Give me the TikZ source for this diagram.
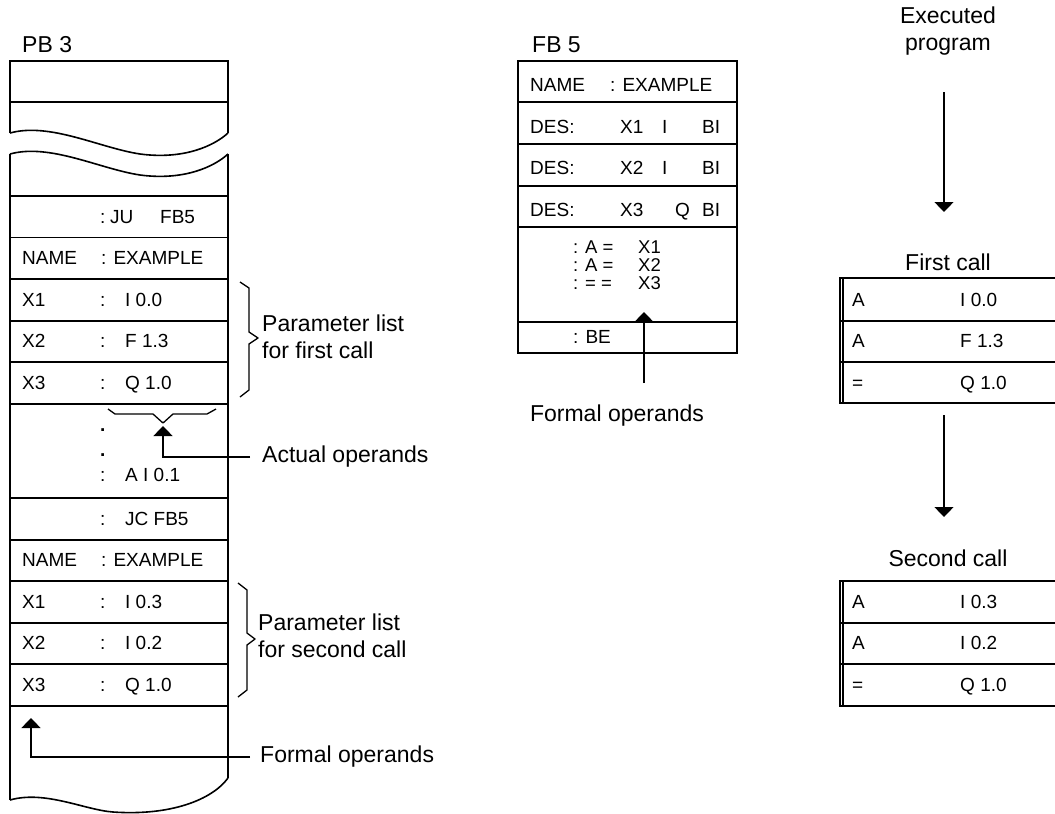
\documentclass[tikz,border=0pt]{standalone}
\usepackage{fontspec}
\setmainfont{Liberation Sans}
\usetikzlibrary{arrows.meta}
\newcommand\tabf{\fontsize{19}{22}\selectfont}
\newcommand\codef{\fontsize{18.5}{18}\selectfont}
\newcommand\annf{\fontsize{23}{27}\selectfont}
\begin{document}
\begin{tikzpicture}[x=1pt,y=-1pt,
  box/.style={line width=1.6pt},
  brc/.style={line width=1.3pt, line join=round},
  tt/.style={anchor=west, font=\tabf, inner sep=0pt, text height=13.5pt, text depth=0pt},
  ct/.style={anchor=west, font=\codef, inner sep=0pt, text height=12pt, text depth=0pt},
  an/.style={font=\annf, inner sep=0pt},
  ptr/.style={line width=1.3pt, -{Triangle[width=19pt,length=10pt]}}]
\useasboundingbox (0,0) rectangle (1055,814);
\fill[white] (0,0) rectangle (1055,814);

% ---------------- PB 3 ----------------
\node[an, anchor=west] (pb3) at (22,45) {PB 3};
\draw[box] (10,133) -- (10,61) -- (228,61) -- (228,133);
\draw[box] (10,102) -- (228,102);
\draw[box] (10,133) .. controls (50,122) and (100,148) .. (140,154) .. controls (185,160) and (215,145) .. (228,133);
\draw[box] (10,154) .. controls (50,143) and (100,169) .. (140,175) .. controls (185,181) and (215,166) .. (228,154);
\draw[box] (10,154) -- (10,800);
\draw[box] (228,154) -- (228,778);
\draw[box] (10,800) .. controls (45,790) and (85,810) .. (113,812) .. controls (170,816) and (212,800) .. (228,778);
\foreach \yy in {196,237.5,279,321,362,404,498,540,581,623,664,706}
  \draw[box] (10,\yy) -- (228,\yy);

\node[tt] (ju1) at (100,217) {:};
\node[tt] (ju2) at (110,217) {JU};
\node[tt] (ju3) at (160,217) {FB5};
\node[tt] (n1a) at (22,258) {NAME};
\node[tt] (n1b) at (101,258) {: EXAMPLE};
\node[tt] (p1a) at (22,300) {X1};
\node[tt] (p1b) at (100,300) {:};
\node[tt] (p1c) at (125,300) {I 0.0};
\node[tt] (p2a) at (22,341) {X2};
\node[tt] (p2b) at (100,341) {:};
\node[tt] (p2c) at (125,341) {F 1.3};
\node[tt] (p3a) at (22,383) {X3};
\node[tt] (p3b) at (100,383) {:};
\node[tt] (p3c) at (125,383) {Q 1.0};
\node[font=\tabf\bfseries, inner sep=0pt, anchor=base west] (d1) at (100,431) {.};
\node[font=\tabf\bfseries, inner sep=0pt, anchor=base west] (d2) at (100,456) {.};
\node[tt] (ai1) at (100,475) {:};
\node[tt] (ai2) at (125,475) {A I 0.1};
\node[tt] (jc1) at (100,519) {:};
\node[tt] (jc2) at (125,519) {JC FB5};
\node[tt] (n2a) at (22,560) {NAME};
\node[tt] (n2b) at (101,560) {: EXAMPLE};
\node[tt] (q1a) at (22,602) {X1};
\node[tt] (q1b) at (100,602) {:};
\node[tt] (q1c) at (125,602) {I 0.3};
\node[tt] (q2a) at (22,643) {X2};
\node[tt] (q2b) at (100,643) {:};
\node[tt] (q2c) at (125,643) {I 0.2};
\node[tt] (q3a) at (22,685) {X3};
\node[tt] (q3b) at (100,685) {:};
\node[tt] (q3c) at (125,685) {Q 1.0};

% braces
\draw[brc] (240,282) -- (249,288) -- (249,332) -- (258,338) -- (249,344) -- (249,390) -- (240,397);
\node[an, anchor=west, align=left] (pl1) at (262,337) {Parameter list\\for first call};
\draw[brc] (238,583) -- (247,590) -- (247,633) -- (255,639) -- (247,645) -- (247,690) -- (238,697);
\node[an, anchor=west, align=left] (pl2) at (258,636) {Parameter list\\for second call};
\draw[brc] (108,409) -- (115,414) -- (153,414) -- (163,423) -- (173,414) -- (207,414) -- (216,409);

% actual operands
\node[an, anchor=west] (act) at (262,457) {Actual operands};
\coordinate (acttip) at (163,426);
\draw[ptr] (act.west) ++(-12,0) -| (acttip);
% formal operands PB3
\node[an, anchor=west] (fo1) at (260,757) {Formal operands};
\coordinate (fo1tip) at (31,718);
\draw[ptr] (fo1.west) ++(-10,0) -| (fo1tip);

% ---------------- FB 5 ----------------
\node[an, anchor=west] (fb5) at (532,45) {FB 5};
\draw[box] (518,61) rectangle (737,353);
\foreach \yy in {102,144,186,227,322}
  \draw[box] (518,\yy) -- (737,\yy);
\node[tt] (fn1) at (530,85) {NAME};
\node[tt] (fn2) at (610,85) {: EXAMPLE};
\foreach \r/\yy/\xx/\tp in {1/127/X1/I,2/168/X2/I}{
  \node[tt] (des\r) at (530,\yy) {DES:};
  \node[tt] (dx\r) at (620,\yy) {\xx};
  \node[tt] (di\r) at (662,\yy) {\tp};
  \node[tt] (db\r) at (702,\yy) {BI};
}
\node[tt] (des3) at (530,210) {DES:};
\node[tt] (dx3) at (620,210) {X3};
\node[tt] (di3) at (675,210) {Q};
\node[tt] (db3) at (702,210) {BI};
\node[ct] (c1a) at (573,247) {: A =};
\node[ct] (c1b) at (638,247) {X1};
\node[ct] (c2a) at (573,265) {: A =};
\node[ct] (c2b) at (638,265) {X2};
\node[ct] (c3a) at (573,283) {: = =};
\node[ct] (c3b) at (638,283) {X3};
\node[tt] (be) at (573,337) {: BE};
\node[an] (fo2) at (617,416) {Formal operands};
\coordinate (fo2top) at (644,383);
\coordinate (fo2tip) at (644,312);
\draw[ptr] (fo2top) -- (fo2tip);

% ---------------- Executed program ----------------
\node[an, align=center] (exe) at (948,31) {Executed\\program};
\coordinate (e1s) at (944,92);
\coordinate (e1t) at (944,212);
\draw[ptr] (e1s) -- (e1t);
\node[an] (fc) at (948,262) {First call};
\draw[box] (1056,278) -- (840,278) -- (840,403) -- (1056,403);
\draw[line width=1.2pt] (843,278) -- (843,403);
\foreach \yy in {321,362} \draw[box] (840,\yy) -- (1056,\yy);
\node[tt] (f1a) at (852,300) {A};
\node[tt] (f1b) at (960,300) {I 0.0};
\node[tt] (f2a) at (852,341) {A};
\node[tt] (f2b) at (960,341) {F 1.3};
\node[tt] (f3a) at (852,383) {=};
\node[tt] (f3b) at (960,383) {Q 1.0};
\coordinate (e2s) at (944,415);
\coordinate (e2t) at (944,517);
\draw[ptr] (e2s) -- (e2t);
\node[an] (sc) at (948,558) {Second call};
\draw[box] (1056,581) -- (840,581) -- (840,706) -- (1056,706);
\draw[line width=1.2pt] (843,581) -- (843,706);
\foreach \yy in {623,664} \draw[box] (840,\yy) -- (1056,\yy);
\node[tt] (s1a) at (852,602) {A};
\node[tt] (s1b) at (960,602) {I 0.3};
\node[tt] (s2a) at (852,643) {A};
\node[tt] (s2b) at (960,643) {I 0.2};
\node[tt] (s3a) at (852,685) {=};
\node[tt] (s3b) at (960,685) {Q 1.0};
\end{tikzpicture}
\end{document}
